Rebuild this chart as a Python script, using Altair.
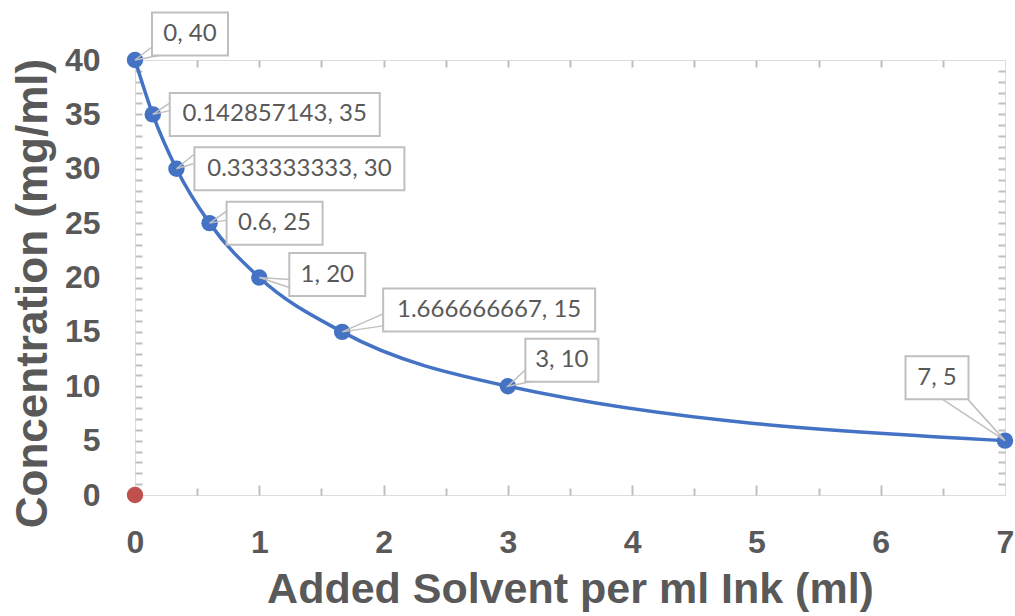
import altair as alt
import pandas as pd

# Dilution series: solvent added per ml of ink vs resulting concentration
solvent = [0, 0.142857143, 0.333333333, 0.6, 1, 1.666666667, 3, 7]
concentration = [40, 35, 30, 25, 20, 15, 10, 5]

# Second series: a single marker at the origin
origin_solvent = [0]
origin_concentration = [0]

x_major = [0, 1, 2, 3, 4, 5, 6, 7]
y_major = [0, 5, 10, 15, 20, 25, 30, 35, 40]
x_inner_major = [1, 2, 3, 4, 5, 6]
x_half = [0.5, 1.5, 2.5, 3.5, 4.5, 5.5, 6.5]
x_top = [0.5, 1, 1.5, 2, 2.5, 3, 3.5, 4, 4.5, 5, 5.5, 6, 6.5]
y_minor = list(range(1, 40))

W, H = 870, 435
X_MAX, Y_MAX = 7, 40

GREY_TEXT = "#595959"
FRAME = "#bfbfbf"
BLUE = "#4472C4"
RED = "#C0504D"

# Callout layout, in pixels relative to its point:
# box centre (dx, dy), box width, and the two base points of the pointer wedge
BOX_H = 43
callouts = [
    ((55, -26), 76, (17, -13), (27, -5)),
    ((122, 0), 210, (18, -12), (18, -4)),
    ((123, 0), 210, (17, -14), (17, -5)),
    ((65, 0), 96, (17, -12), (17, -3)),
    ((68, -3), 76, (30, 2), (30, 10)),
    ((147, -22), 212, (41, -18), (41, -6)),
    ((54, -26), 73, (17, -16), (25, -5)),
    ((-68, -63), 63, (-62, -41), (-37, -41)),
]


def px_to_data(x, y, px, py):
    return x + px * X_MAX / W, y - py * Y_MAX / H


def fmt(v):
    return f"{v:.9f}".rstrip("0").rstrip(".")


series = pd.DataFrame({"solvent": solvent, "concentration": concentration})
origin = pd.DataFrame({"solvent": origin_solvent, "concentration": origin_concentration})

box_rows, wedge_rows = [], []
for i, (x, y) in enumerate(zip(solvent, concentration)):
    (dx, dy), bw, b1, b2 = callouts[i]
    cx, cy = px_to_data(x, y, dx, dy)
    x0, y0 = px_to_data(x, y, dx - bw / 2, dy - BOX_H / 2)
    x1, y1 = px_to_data(x, y, dx + bw / 2, dy + BOX_H / 2)
    box_rows.append({"id": i, "cx": cx, "cy": cy, "x0": x0, "x1": x1,
                     "y0": y0, "y1": y1, "label": f"{fmt(x)}, {y}"})
    for k, (px, py) in enumerate([b1, (0, 0), b2]):
        wx, wy = px_to_data(x, y, px, py)
        wedge_rows.append({"id": i, "k": k, "wx": wx, "wy": wy})

boxes = pd.DataFrame(box_rows)
wedges = pd.DataFrame(wedge_rows)

xs = alt.Scale(domain=[0, X_MAX], nice=False, zero=False)
ys = alt.Scale(domain=[0, Y_MAX], nice=False, zero=False)

AXIS_FONT = "Liberation Sans"


def tick_axis(orient, values, size, offset):
    return alt.Axis(orient=orient, values=values, tickSize=size, offset=offset,
                    ticks=True, tickColor=FRAME, tickWidth=2, labels=False,
                    domain=False, grid=False, title=None)


x_main = alt.Axis(
    orient="bottom", values=x_major, ticks=False, tickSize=0, domain=False, grid=False,
    labelFont=AXIS_FONT, labelFontSize=32, labelFontWeight="bold", labelColor=GREY_TEXT,
    labelBaseline="alphabetic", labelPadding=57, labelFlush=False,
    title="Added Solvent per ml Ink (ml)", titleFont=AXIS_FONT, titleFontSize=43,
    titleFontWeight="bold", titleColor=GREY_TEXT, titleX=W / 2, titleY=107,
    titleBaseline="alphabetic", titleAlign="center",
)
y_main = alt.Axis(
    orient="left", values=y_major, ticks=False, tickSize=0, domain=False, grid=False,
    labelFont=AXIS_FONT, labelFontSize=32, labelFontWeight="bold", labelColor=GREY_TEXT,
    labelPadding=35, labelFlush=False,
    title="Concentration (mg/ml)", titleFont=AXIS_FONT, titleFontSize=44,
    titleFontWeight="bold", titleColor=GREY_TEXT, titleX=-102, titleY=233,
    titleAngle=270, titleBaseline="middle", titleAlign="center",
)

line = alt.Chart(series).mark_line(
    color=BLUE, strokeWidth=3.5, interpolate="monotone"
).encode(
    x=alt.X("solvent:Q", scale=xs, axis=x_main),
    y=alt.Y("concentration:Q", scale=ys, axis=y_main),
)

points = alt.Chart(series).mark_circle(color=BLUE, opacity=1, size=270).encode(
    x=alt.X("solvent:Q", scale=xs, axis=tick_axis("top", x_inner_major, 10, -H)),
    y=alt.Y("concentration:Q", scale=ys, axis=tick_axis("right", y_minor, 7, -W)),
)

origin_dot = alt.Chart(origin).mark_circle(color=RED, opacity=1, size=270).encode(
    x=alt.X("solvent:Q", scale=xs, axis=tick_axis("top", x_half, 7, -H)),
    y=alt.Y("concentration:Q", scale=ys, axis=tick_axis("left", y_minor, 7, -W)),
)

pointers = alt.Chart(wedges).mark_line(color=FRAME, strokeWidth=1.5).encode(
    x=alt.X("wx:Q", scale=xs, axis=tick_axis("bottom", x_top, 7, -H)),
    y=alt.Y("wy:Q", scale=ys, axis=None),
    detail="id:N",
    order="k:Q",
)

frames = alt.Chart(boxes).mark_rect(fill="white", stroke=FRAME, strokeWidth=2).encode(
    x=alt.X("x0:Q", scale=xs, axis=None),
    x2="x1:Q",
    y=alt.Y("y0:Q", scale=ys, axis=None),
    y2="y1:Q",
)

texts = alt.Chart(boxes).mark_text(
    font="Lato", fontSize=24, color=GREY_TEXT, align="center", baseline="middle"
).encode(
    x=alt.X("cx:Q", scale=xs, axis=None),
    y=alt.Y("cy:Q", scale=ys, axis=None),
    text="label:N",
)

chart = alt.layer(line, points, origin_dot, pointers, frames, texts).resolve_axis(
    x="independent", y="independent"
).properties(
    width=W, height=H,
    autosize=alt.AutoSizeParams(type="none"),
    padding={"left": 135, "top": 60, "right": 10, "bottom": 121},
).configure_view(
    stroke=FRAME, strokeWidth=2
).configure(background="white")

chart.save("out.html", embed_options={"renderer": "svg", "actions": False})
